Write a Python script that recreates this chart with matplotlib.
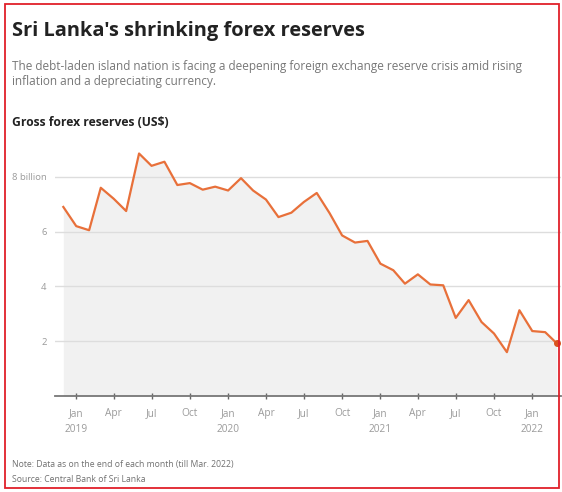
import matplotlib
matplotlib.use("Agg")
import matplotlib.pyplot as plt
import pandas as pd

# Monatsendstände der Bruttodevisenreserven, Mrd. US$ (Dez 2018 bis Mär 2022)
months = pd.date_range("2018-12-01", "2022-03-01", freq="MS")
reserves = [6.9, 6.2, 6.05, 7.6, 7.2, 6.75, 8.85, 8.4, 8.55, 7.7,
            7.77, 7.53, 7.64, 7.5, 7.95, 7.5, 7.17, 6.53, 6.69, 7.08,
            7.41, 6.67, 5.86, 5.6, 5.66, 4.83, 4.59, 4.1, 4.44, 4.07,
            4.04, 2.85, 3.5, 2.7, 2.28, 1.6, 3.13, 2.37, 2.33, 1.92]

y_ticks = [2, 4, 6, 8]
y_labels = ["2", "4", "6", "8 billion"]
x_ticks = pd.date_range("2019-01-01", "2022-01-01", freq="QS")
x_labels = ["Jan\n2019", "Apr", "Jul", "Oct", "Jan\n2020", "Apr", "Jul", "Oct",
            "Jan\n2021", "Apr", "Jul", "Oct", "Jan\n2022"]

TITLE = "Sri Lanka's shrinking forex reserves"
SUBTITLE = ("The debt-laden island nation is facing a deepening foreign exchange reserve crisis amid rising\n"
            "inflation and a depreciating currency.")
LABEL = "Gross forex reserves (US$)"
NOTE = "Note: Data as on the end of each month (till Mar. 2022)"
SOURCE = "Source: Central Bank of Sri Lanka"

LINE = "#e8703a"
plt.rcParams["font.family"] = ["Open Sans", "DejaVu Sans"]

W, H = 562, 492
fig = plt.figure(figsize=(W / 100, H / 100), dpi=100)
fig.patch.set_facecolor("white")


def px(x, y):
    return x / W, 1 - y / H


# Achsen: y=0 bei 396 px, 27.4 px je Mrd.
ax = fig.add_axes([55 / W, (H - 396) / H, 506 / W, 9 * 27.4 / H])
ax.fill_between(months, reserves, 0, color="#f1f1f1", lw=0, zorder=1)
ax.plot(months, reserves, color=LINE, lw=1.6, zorder=3)
ax.plot(months[-1:], reserves[-1:], "o", color="#d9531e", ms=4, zorder=4)

ax.set_ylim(0, 9)
ax.set_xlim(pd.Timestamp("2018-11-11"), pd.Timestamp("2022-03-11"))
ax.set_yticks(y_ticks)
ax.set_yticklabels(y_labels)
ax.yaxis.grid(True, color="#dddddd", lw=1, zorder=0)
ax.tick_params(axis="y", length=0, pad=6, labelsize=6.8, labelcolor="#9a9a9a")

ax.set_xticks(x_ticks)
ax.set_xticklabels(x_labels, linespacing=1.6)
ax.tick_params(axis="x", direction="inout", length=5, width=1, color="#666666",
               labelsize=7.3, labelcolor="#9a9a9a", pad=6)

for side in ("top", "right", "left"):
    ax.spines[side].set_visible(False)
ax.spines["bottom"].set_color("#777777")
ax.spines["bottom"].set_linewidth(1.3)
ax.set_facecolor("white")

# Texte
fig.text(*px(12, 31), TITLE, fontsize=14.4, fontweight="bold", color="#222222", va="center")
fig.text(*px(12, 74), SUBTITLE, fontsize=8.5, color="#777777", va="center", linespacing=1.2)
fig.text(*px(12, 122), LABEL, fontsize=8.7, fontweight="bold", color="#222222", va="center")
fig.text(*px(12, 465), NOTE, fontsize=6.2, color="#707070", va="center")
fig.text(*px(12, 480), SOURCE, fontsize=6.2, color="#707070", va="center")

# roter Rahmen
fig.add_artist(plt.Rectangle(px(5, 488), 554 / W, 484 / H, transform=fig.transFigure,
                             fill=False, edgecolor="#e0202a", lw=1.3))

fig.savefig("out.png", dpi=100)
